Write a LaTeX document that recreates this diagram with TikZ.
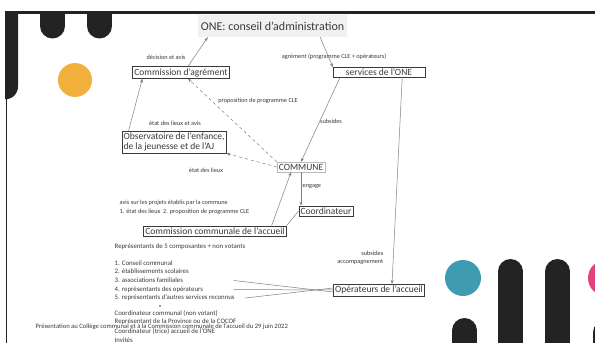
\documentclass[tikz,border=0pt]{standalone}
\usepackage{fontspec}
\setmainfont{Carlito}
\usetikzlibrary{arrows.meta,positioning}
\definecolor{inkgray}{HTML}{3A3A3A}
\definecolor{linegray}{HTML}{7F7F7F}
\definecolor{titlegray}{HTML}{F1F1F1}
\definecolor{slideblack}{HTML}{232323}
\definecolor{slideorange}{HTML}{F1B13C}
\definecolor{slideteal}{HTML}{3F9BB1}
\definecolor{slidepink}{HTML}{E2437F}

\begin{document}
\begin{tikzpicture}[x=1pt,y=-1pt,
  box/.style={draw=inkgray,fill=white,inner sep=1.8pt,text=inkgray,font=\fontsize{9.5}{10.5}\selectfont},
  lbl/.style={text=inkgray,inner sep=0.5pt,font=\fontsize{6.3}{8.6}\selectfont},
  item/.style={lbl,anchor=west,font=\fontsize{6.8}{8}\selectfont},
  arr/.style={-{Stealth[length=4pt,width=3pt]},linegray,line width=0.5pt},
  link/.style={linegray,line width=0.5pt}
]
\useasboundingbox (0,0) rectangle (595,343);
\fill[white] (0,0) rectangle (595,343);

% slide frame and decorations
\fill[slideblack] (5,11) rectangle (595,13.5);
\fill[slideblack] (5,11) -- (18,11) -- (18,86) .. controls (18,94) and (13,98) .. (8,99) -- (5,99) -- cycle;
\draw[slideblack,line width=1.6pt] (6.3,98) -- (6.3,343);
\fill[slideblack] (40,11) rectangle (65,26);
\fill[slideblack] (52.5,26) circle[radius=12.5pt];
\fill[slideblack] (87,11) rectangle (112,26);
\fill[slideblack] (99.5,26) circle[radius=12.5pt];
\fill[slideorange] (75,80) circle[radius=17pt];
\fill[slideteal] (463,278) circle[radius=18pt];
\fill[slidepink] (606,278) circle[radius=18pt];
\fill[slideblack] (498,271.5) rectangle (523,343);
\fill[slideblack] (510.5,271.5) circle[radius=12.5pt];
\fill[slideblack] (545,271.5) rectangle (570,343);
\fill[slideblack] (557.5,271.5) circle[radius=12.5pt];
\fill[slideblack] (452,330.5) rectangle (477,343);
\fill[slideblack] (464.5,330.5) circle[radius=12.5pt];
\fill[slideblack] (593,332.5) rectangle (618,343);
\fill[slideblack] (605.5,332.5) circle[radius=12.5pt];

% organigram
\node[fill=titlegray,text=inkgray,minimum width=149pt,minimum height=22pt,inner sep=0pt,font=\fontsize{12}{13}\selectfont] (one) at (272.5,26) {ONE: conseil d'administration};
\node[box] (agrement) at (181,72.5) {Commission d'agrément};
\node[box,minimum width=92pt] (services) at (379,72.5) {services de l'ONE};
\node[box,align=left] (observ) at (174,142) {Observatoire de l'enfance,\\de la jeunesse et de l'AJ};
\node[box,draw=linegray!55] (commune) at (301,167) {COMMUNE};
\node[box] (coord) at (326,211) {Coordinateur};
\node[box] (cca) at (215,231) {Commission communale de l'accueil};
\node[box] (operateurs) at (379,290) {Opérateurs de l'accueil};

\node[lbl] (decision) at (166,57) {décision et avis};
\node[lbl] (agrlbl) at (334,57) {agrément (programme CLE + opérateurs)};
\node[lbl] (proplbl) at (258,101) {proposition de programme CLE};
\node[lbl] (subslbl) at (331,121) {subsides};
\node[lbl] (etatavis) at (175,123) {état des lieux et avis};
\node[lbl] (etat) at (206,170) {état des lieux};
\node[lbl,anchor=west] (engage) at (302,187) {engage};
\node[lbl,align=left,anchor=west] (avis) at (119,207.5) {avis sur les projets établis par la commune\\1. état des lieux \ 2. proposition de programme CLE};
\node[lbl,align=right,anchor=east] (subsacc) at (384,258) {subsides\\accompagnement};

\node[item] (repr) at (114,247) {Représentants de 5 composantes + non votants};
\node[item] (i1) at (114,263) {1. Conseil communal};
\node[item] (i2) at (114,271.5) {2. établissements scolaires};
\node[item] (i3) at (114,280.5) {3. associations familiales};
\node[item] (i4) at (114,289.5) {4. représentants des opérateurs};
\node[item] (i5) at (114,298) {5. représentants d'autres services reconnus};
\fill[inkgray] (160,306) circle[radius=0.9pt];
\node[item] (nv1) at (114,313) {Coordinateur communal (non votant)};
\node[item] (nv2) at (114,322) {Représentant de la Province ou de la COCOF};
\node[item] (nv3) at (114,331) {Coordinateur (trice) accueil de l'ONE};
\node[item] (nv4) at (114,340) {Invités};
\node[lbl,anchor=west,font=\fontsize{6.6}{7}\selectfont] (footer) at (35,327) {Présentation au Collège communal et à la Commission communale de l'accueil du 29 juin 2022};

% connectors
\draw[arr] ([xshift=7pt]agrement.north) -- ([xshift=10pt]one.south west);
\draw[arr] ([xshift=-27pt]one.south east) -- (services.north west);
\draw[arr,dashed] (commune.north west) -- ([xshift=7pt]agrement.south);
\draw[arr] ([xshift=7pt]observ.north west) -- ([xshift=10pt]agrement.south west);
\draw[arr] ([xshift=7pt]services.south west) -- (commune.north);
\draw[arr,dashed] (commune.west) -- (observ.south east);
\draw[arr] ([xshift=-15pt]cca.north east) -- ([xshift=-10pt]commune.south);
\draw[arr] (commune.south) -- (commune.south |- coord.north);
\draw[link] (coord.west) -- (cca.north east);
\draw[arr] ([xshift=-23pt]services.south east) -- ([xshift=13pt]operateurs.north);
\draw[link] ([xshift=50pt]i3.east) -- ([yshift=-2pt]operateurs.west);
\draw[link] ([xshift=30pt]i4.east) -- (operateurs.west);
\draw[link] ([xshift=10pt]i5.east) -- ([yshift=2pt]operateurs.west);
\end{tikzpicture}
\end{document}
